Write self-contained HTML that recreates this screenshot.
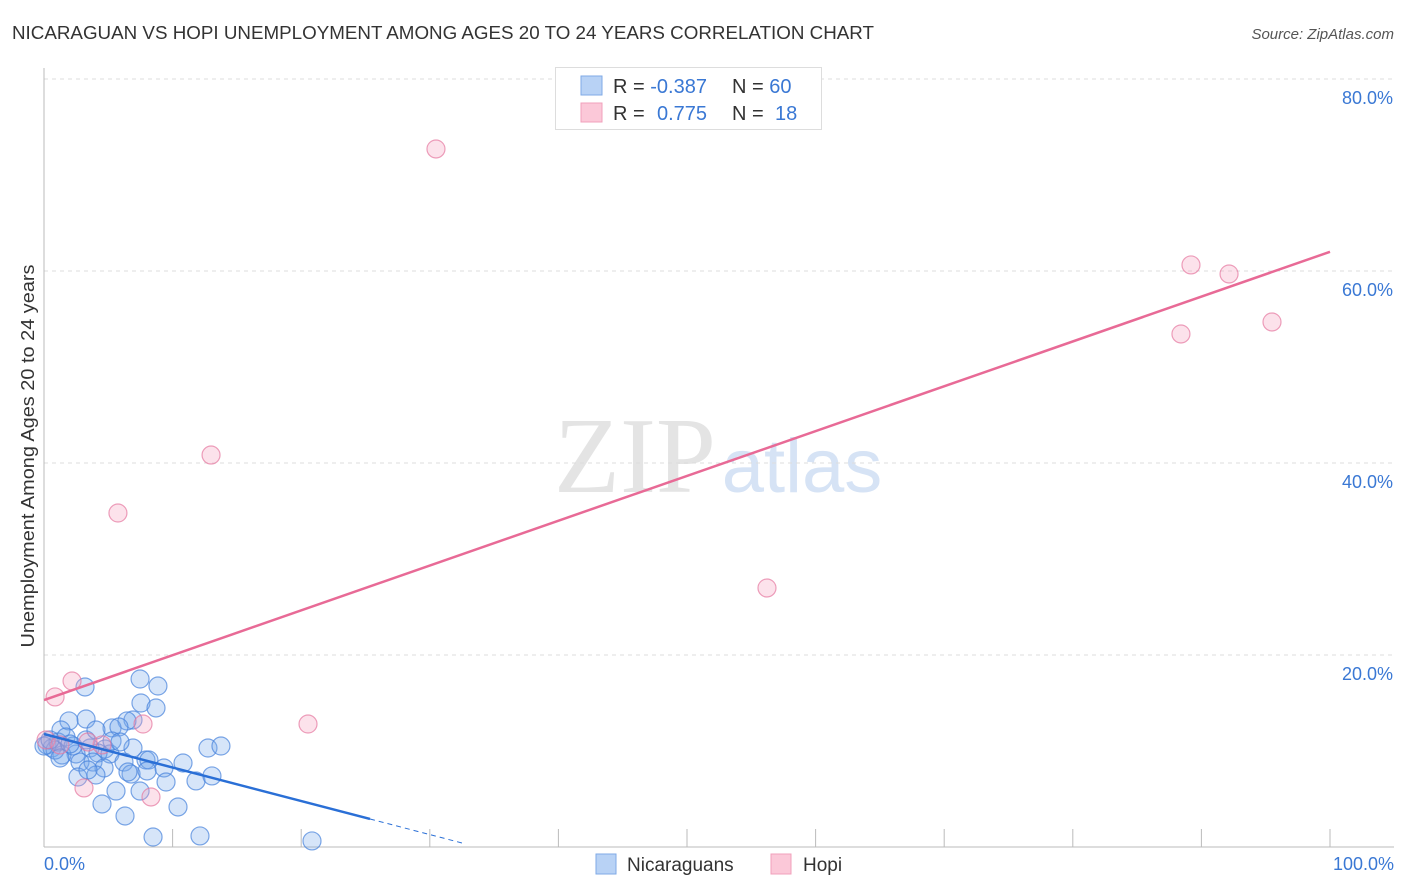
<!DOCTYPE html>
<html><head><meta charset="utf-8"><style>
body{margin:0;background:#fff;font-family:"Liberation Sans",sans-serif;}
svg{display:block}
</style></head><body>
<svg id="chart" width="1406" height="892" xmlns="http://www.w3.org/2000/svg">
<text x="12" y="39" font-size="18" fill="#333" textLength="862" lengthAdjust="spacingAndGlyphs">NICARAGUAN VS HOPI UNEMPLOYMENT AMONG AGES 20 TO 24 YEARS CORRELATION CHART</text>
<text x="1394" y="39" font-size="15" fill="#555" font-style="italic" text-anchor="end">Source: ZipAtlas.com</text>
<text x="635" y="492" font-size="108" fill="#e4e4e4" font-family="Liberation Serif,serif" text-anchor="middle">ZIP</text>
<text x="802" y="492" font-size="76" fill="#d6e3f5" text-anchor="middle">atlas</text>
<g id="grid"></g>
<g id="axes"></g>
<g id="marks"></g>
<text transform="translate(34,456) rotate(-90)" font-size="18" fill="#333" text-anchor="middle" textLength="383" lengthAdjust="spacingAndGlyphs">Unemployment Among Ages 20 to 24 years</text>
<text x="44" y="870" font-size="18" fill="#3a78d4">0.0%</text>
<text x="1394" y="870" font-size="18" fill="#3a78d4" text-anchor="end">100.0%</text>
<g>
<rect x="555.5" y="67.5" width="266" height="62" fill="#fff" stroke="#ddd"/>
<rect x="581" y="76" width="21" height="19" fill="#b8d2f5" stroke="#7faae6"/>
<rect x="581" y="103" width="21" height="19" fill="#fbc8d8" stroke="#f0a0bb"/>
<text x="613" y="93" font-size="20" fill="#333">R = <tspan fill="#3a78d4">-0.387</tspan></text>
<text x="732" y="93" font-size="20" fill="#333">N = <tspan fill="#3a78d4">60</tspan></text>
<text x="613" y="120" font-size="20" fill="#333">R = <tspan fill="#3a78d4" x="657">0.775</tspan></text>
<text x="732" y="120" font-size="20" fill="#333">N = <tspan fill="#3a78d4" x="775">18</tspan></text>
</g>
<g>
<rect x="596" y="854" width="20" height="20" fill="#b8d2f5" stroke="#7faae6"/>
<text x="627" y="871" font-size="19" fill="#333">Nicaraguans</text>
<rect x="771" y="854" width="20" height="20" fill="#fbc8d8" stroke="#f0a0bb"/>
<text x="803" y="871" font-size="19" fill="#333">Hopi</text>
</g>
</svg>
<script>
const yTicks=[20,40,60,80];
const yTickLabels=["20.0%","40.0%","60.0%","80.0%"];
const blueX=[3.19,8.86,7.47,7.54,8.71,3.27,1.94,6.92,6.45,5.29,5.83,1.32,4.74,6.92,3.58,4.2,5.13,2.49,0.23,0.62,1.4,12.75,13.76,10.81,11.82,7.93,8.16,9.33,6.22,2.8,3.81,4.67,2.64,4.04,6.77,6.53,13.06,9.49,7.47,5.6,4.51,10.42,6.3,8.48,12.13,20.84,1.09,1.71,2.26,0.86,2.02,3.27,0,0.47,5.29,5.91,8.01,3.42,1.24,4.04];
const blueY=[16.67,16.77,17.5,15.0,14.48,13.33,13.13,13.23,13.13,12.4,12.5,12.19,10.21,10.31,10.31,9.79,9.69,9.69,10.63,10.31,9.58,10.31,10.52,8.75,6.88,9.06,9.06,8.23,8.85,8.85,8.85,8.23,7.29,7.5,7.6,7.81,7.4,6.77,5.83,5.83,4.48,4.17,3.23,1.04,1.15,0.63,10.94,11.46,10.52,10.1,10.73,11.15,10.52,11.15,11.04,10.94,7.92,8.02,9.27,12.19];
const pinkX=[0.86,2.18,3.11,5.75,12.99,30.48,7.7,8.32,20.53,56.22,88.41,89.19,92.15,95.49,0.16,1.24,4.51,3.42];
const pinkY=[15.63,17.29,6.15,34.79,40.83,72.71,12.81,5.21,12.81,26.98,53.44,60.63,59.69,54.69,11.15,10.63,10.63,10.94];
const blueTrend=[[0,11.77],[25.35,2.92],[32.5,0.42]];
const pinkTrend=[[0,15.31],[100,62.0]];
const NS="http://www.w3.org/2000/svg";
const X=v=>44+v*12.86, Y=v=>847-v*9.6;
function mk(tag,attrs,parent){const e=document.createElementNS(NS,tag);for(const k in attrs)e.setAttribute(k,attrs[k]);document.getElementById(parent).appendChild(e);return e;}
yTicks.forEach((t,i)=>{
 const l=mk('line',{x1:44,x2:1394,y1:Y(t),y2:Y(t),stroke:'#ddd','stroke-dasharray':'4,4'},'grid');
 
 
 const tx=mk('text',{x:1393,y:Y(t)+25,'font-size':18,fill:'#3a78d4','text-anchor':'end'},'grid');
 tx.textContent=yTickLabels[i];
 
 
});
const ax=mk('line',{x1:44,x2:44,y1:68,y2:847,stroke:'#bbb'},'axes');


const bx=mk('line',{x1:44,x2:1394,y1:847,y2:847,stroke:'#bbb'},'axes');


for(let k=1;k<=10;k++){
 const t=mk('line',{x1:X(k*10),x2:X(k*10),y1:829,y2:847,stroke:'#bbb'},'axes');
 
 
}
blueX.forEach((v,i)=>{
 const c=mk('circle',{cx:X(v),cy:Y(blueY[i]),r:9,fill:'rgba(120,170,235,0.3)',stroke:'rgba(70,130,220,0.7)','stroke-width':1.2},'marks');
 
 
});
pinkX.forEach((v,i)=>{
 const c=mk('circle',{cx:X(v),cy:Y(pinkY[i]),r:9,fill:'rgba(245,160,190,0.3)',stroke:'rgba(230,120,160,0.7)','stroke-width':1.2},'marks');
 
 
});
const b1=mk('line',{x1:X(blueTrend[0][0]),y1:Y(blueTrend[0][1]),x2:X(blueTrend[1][0]),y2:Y(blueTrend[1][1]),stroke:'#2a6fd6','stroke-width':2.5},'marks');


const b2=mk('line',{x1:X(blueTrend[1][0]),y1:Y(blueTrend[1][1]),x2:X(blueTrend[2][0]),y2:Y(blueTrend[2][1]),stroke:'#2a6fd6','stroke-width':1,'stroke-dasharray':'5,4'},'marks');


const p1=mk('line',{x1:X(pinkTrend[0][0]),y1:Y(pinkTrend[0][1]),x2:X(pinkTrend[1][0]),y2:Y(pinkTrend[1][1]),stroke:'#e86a96','stroke-width':2.5},'marks');


</script>
</body></html>
